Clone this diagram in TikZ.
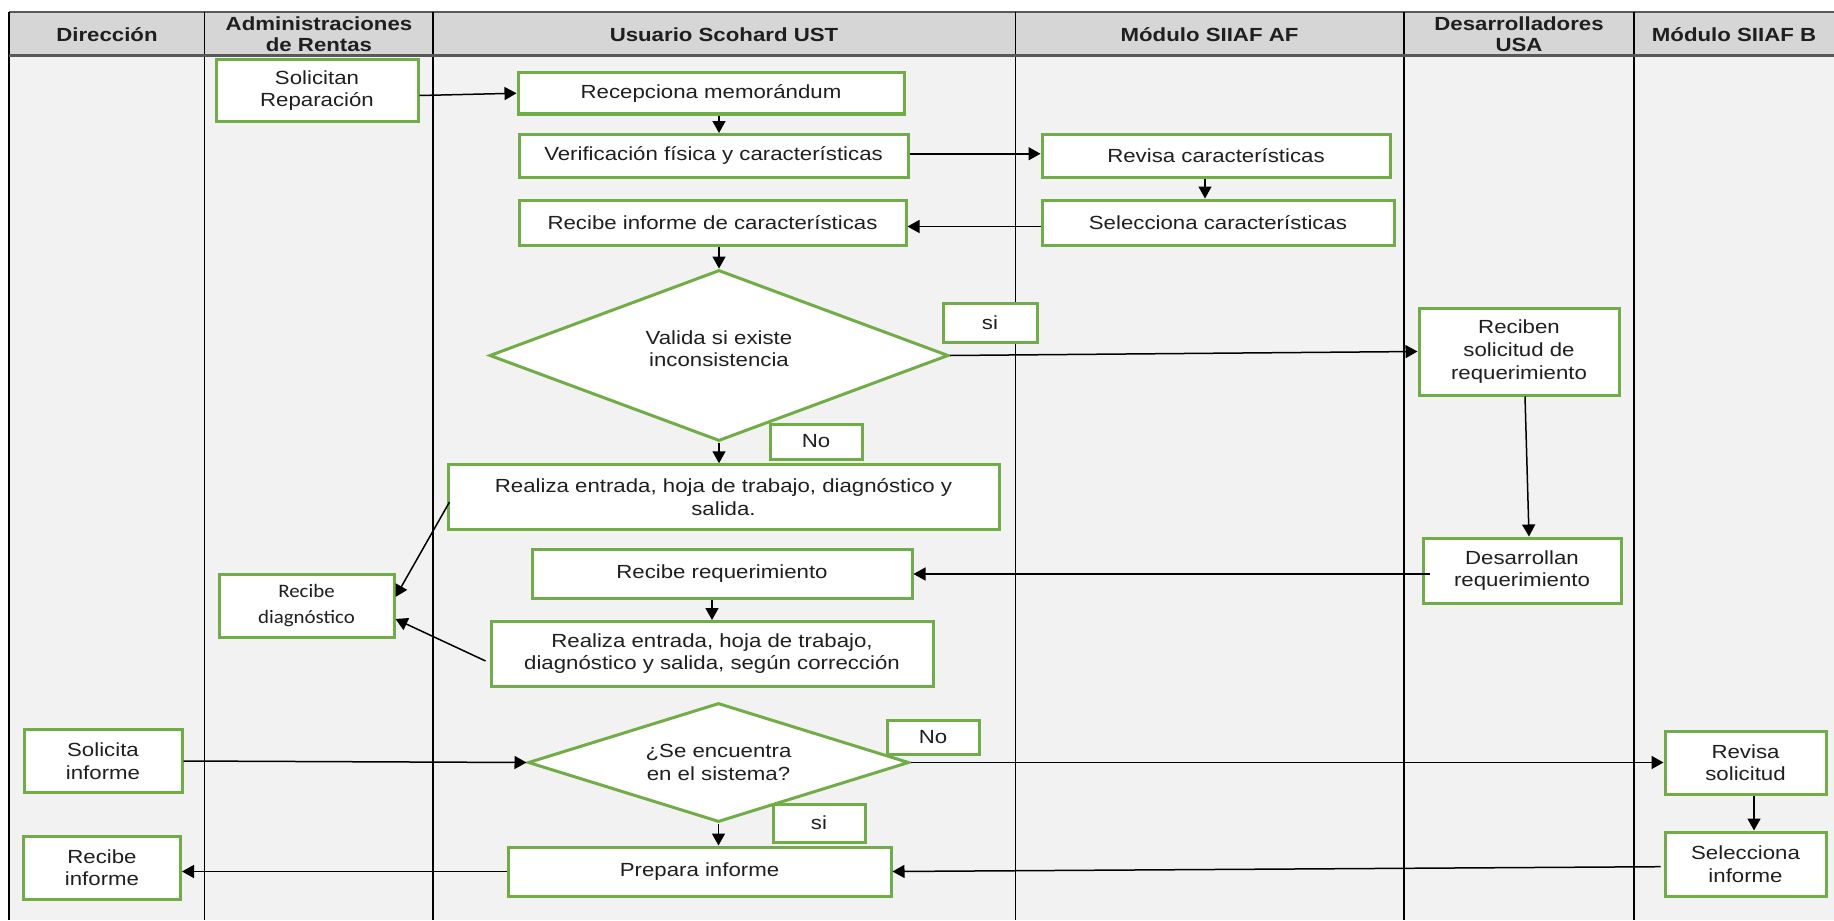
\documentclass[tikz,border=0pt]{standalone}
\usepackage{fontspec}
\setmainfont{Liberation Sans}[FakeStretch=1.17]
\newfontfamily\calfont{Carlito}[FakeStretch=1.1]
\usetikzlibrary{arrows.meta,shapes.geometric,calc}
\definecolor{boxgreen}{HTML}{70AD47}
\definecolor{lanebg}{HTML}{F2F2F2}
\definecolor{headbg}{HTML}{D6D6D6}
\definecolor{headline}{HTML}{595959}
\definecolor{ink}{HTML}{1F1F1F}
\begin{document}
\begin{tikzpicture}[x=0.5pt,y=-0.5pt,
  every node/.style={font=\fontsize{9.5}{11.3}\selectfont, text=ink},
  stepbox/.style={draw=boxgreen, line width=1.5pt, fill=white, align=center, inner sep=0pt},
  decision/.style={diamond, aspect=2.5, draw=boxgreen, line width=1.5pt, fill=white, align=center, inner sep=0pt},
  tagbox/.style={stepbox},
  lanehead/.style={font=\bfseries\fontsize{9.5}{10.5}\selectfont, align=center},
  flow/.style={draw=black, line width=0.75pt, -{Triangle[length=6pt,width=6.5pt]}},
  lane/.style={draw=black, line width=0.75pt},
]
\useasboundingbox (0,0) rectangle (1834,920);

% swimlane frame
\fill[white] (0,0) rectangle (1834,920);
\fill[lanebg] (9,55.5) rectangle (1834,920);
\fill[headbg] (9,12) rectangle (1834,55.5);
\draw[headline, line width=1pt] (1834,12) -- (9,12);
\draw[lane] (9,12) -- (9,920);
\foreach \lx in {204.7,433,1015.3,1404,1634}
  \draw[lane] (\lx,12) -- (\lx,920);
\draw[headline, line width=1.3pt] (9,55.5) -- (1834,55.5);

% lane titles
\node[lanehead] (hdir) at (107,35) {Dirección};
\node[lanehead] (hadm) at (319,34) {Administraciones\\de Rentas};
\node[lanehead] (husr) at (724,35) {Usuario Scohard UST};
\node[lanehead] (hsaf) at (1209.5,35) {Módulo SIIAF AF};
\node[lanehead] (hdes) at (1519,34) {Desarrolladores\\USA};
\node[lanehead] (hsib) at (1734,35) {Módulo SIIAF B};

% process steps
\node[stepbox, minimum width=101pt, minimum height=30.5pt] (solrep) at (317,90.5) {Solicitan\\Reparación};
\node[stepbox, minimum width=193pt, minimum height=20.75pt] (recmem) at (711,93.25) {Recepciona memorándum};
\node[stepbox, minimum width=194.5pt, minimum height=21.25pt] (verif) at (713.5,155.75) {Verificación física y características};
\node[stepbox, minimum width=174pt, minimum height=21.25pt] (revcar) at (1216,155.75) {Revisa características};
\node[stepbox, minimum width=176pt, minimum height=22.5pt] (selcar) at (1218,222.5) {Selecciona características};
\node[stepbox, minimum width=193.5pt, minimum height=22.5pt] (recinf) at (712.5,222.5) {Recibe informe de características};
\node[decision, minimum width=229.5pt, minimum height=85.5pt, text depth=7pt] (diam1) at (719,355.5) {Valida si existe\\inconsistencia};
\node[tagbox, minimum width=47pt, minimum height=19.5pt] (si1) at (990,322.5) {si};
\node[tagbox, minimum width=46pt, minimum height=17.5pt] (no1) at (816,441.5) {No};
\node[stepbox, minimum width=100pt, minimum height=43.5pt] (recsol) at (1519,351.5) {Reciben\\solicitud de\\requerimiento};
\node[stepbox, minimum width=275.5pt, minimum height=32.25pt] (real1) at (723.5,497) {Realiza entrada, hoja de trabajo, diagnóstico y\\salida.};
\node[stepbox, minimum width=99pt, minimum height=32.5pt] (desreq) at (1522,570.5) {Desarrollan\\requerimiento};
\node[stepbox, minimum width=190pt, minimum height=24.25pt] (recreq) at (722,574) {Recibe requerimiento};
\node[stepbox, minimum width=87.5pt, minimum height=31.5pt, font=\calfont\fontsize{9.5}{13}\selectfont] (recdiag) at (306.5,605.5) {Recibe\\diagnóstico};
\node[stepbox, minimum width=221pt, minimum height=32.25pt] (real2) at (712,653.75) {Realiza entrada, hoja de trabajo,\\diagnóstico y salida, según corrección};
\node[decision, minimum width=190.5pt, minimum height=59.5pt] (diam2) at (718.5,762.5) {¿Se encuentra\\en el sistema?};
\node[tagbox, minimum width=46pt, minimum height=17pt] (no2) at (933,737) {No};
\node[tagbox, minimum width=46pt, minimum height=19pt] (si2) at (819,823) {si};
\node[stepbox, minimum width=79pt, minimum height=31.25pt] (solinf) at (103,761) {Solicita\\informe};
\node[stepbox, minimum width=80.5pt, minimum height=31.5pt] (revsol) at (1745.5,762.5) {Revisa\\solicitud};
\node[stepbox, minimum width=80.5pt, minimum height=32pt] (selinf) at (1745.5,864) {Selecciona\\informe};
\node[stepbox, minimum width=191.5pt, minimum height=24.5pt] (prepinf) at (699.5,871.5) {Prepara informe};
\node[stepbox, minimum width=78.5pt, minimum height=31.25pt] (recinf2) at (102,867.75) {Recibe\\informe};

% connectors
\draw[flow] ([yshift=-2.5pt]solrep.east) -- (recmem.west);
\draw[flow] (recmem.south -| diam1.north) -- (verif.north -| diam1.north);
\draw[flow] ([yshift=1pt]verif.east) -- ([yshift=1pt]verif.east -| revcar.west);
\draw[flow] ([xshift=-5.5pt]revcar.south) -- ([xshift=-5.5pt]revcar.south |- selcar.north);
\draw[flow] ([yshift=-2pt]selcar.west) -- ([yshift=-2pt]selcar.west -| recinf.east);
\draw[flow] (recinf.south -| diam1.north) -- (diam1.north);
\draw[flow] (diam1.east) -- (recsol.west);
\draw[flow] (diam1.south) -- (diam1.south |- real1.north);
\draw[flow] ([xshift=3pt]recsol.south) -- ([xshift=3.5pt]desreq.north);
\draw[flow] ([shift={(4pt,-1.75pt)}]desreq.west) -- (recreq.east);
\draw[flow] ([shift={(1.5pt,-2.5pt)}]real1.west) -- ([yshift=4.25pt]recdiag.east);
\draw[flow] (recreq.south -| real2.north) -- (real2.north);
\draw[flow] ([shift={(-2pt,-3.6pt)}]real2.west) -- ([yshift=-6.75pt]recdiag.east);
\draw[flow] (solinf.east) -- (diam2.west);
\draw[flow] (diam2.east) -- (revsol.west);
\draw[flow] ([xshift=4.25pt]revsol.south) -- ([xshift=4.25pt]selinf.north);
\draw[flow] ([shift={(-1.5pt,-1.35pt)}]selinf.west) -- (prepinf.east);
\draw[flow] (diam2.south) -- (diam2.south |- prepinf.north);
\draw[flow] (prepinf.west) -- (prepinf.west -| recinf2.east);
\end{tikzpicture}
\end{document}
